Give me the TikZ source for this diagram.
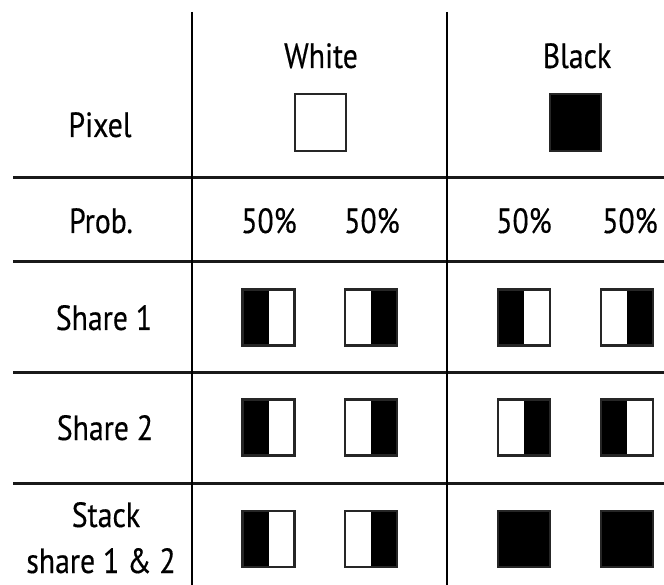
\documentclass[tikz,border=0pt]{standalone}
\usepackage{fontspec}
\setmainfont{PT Sans}[FakeStretch=0.85,FakeBold=0.4]
\begin{document}
\begin{tikzpicture}[x=1pt,y=-1pt,
  lbl/.style={anchor=base,inner sep=0pt,font=\fontsize{35}{42}\selectfont},
  cell/.style={draw=black!85,line width=2.5pt,minimum width=52pt,minimum height=56pt,inner sep=0pt},
  halfL/.style={cell,path picture={\fill[black] (path picture bounding box.south west) rectangle (path picture bounding box.north);}},
  halfR/.style={cell,path picture={\fill[black] (path picture bounding box.south) rectangle (path picture bounding box.north east);}},
  full/.style={cell,fill=black},
  grid/.style={line width=3pt,black!90}]
\useasboundingbox (0,0) rectangle (664,585);
% grid
\coordinate (v1t) at (192,12); \coordinate (v1b) at (192,585);
\coordinate (v2t) at (447,12); \coordinate (v2b) at (447,585);
\foreach \y/\n in {178/a,262/b,372/c,483/d}{
  \coordinate (h\n l) at (13,\y); \coordinate (h\n r) at (664,\y);
  \draw[grid] (h\n l) -- (h\n r);}
\draw[line width=2.5pt] (v1t) -- (v1b);
\draw[line width=2pt] (v2t) -- (v2b);
% header
\node[lbl] (white) at (321,68) {White};
\node[lbl] (black) at (577,68) {Black};
\node[lbl] (pixel) at (100,137) {Pixel};
\node[cell,minimum width=51pt,minimum height=57pt] (pw) at (320.5,122.5) {};
\node[full,minimum width=51pt,minimum height=57pt] (pb) at (575.5,122.5) {};
% prob
\node[lbl] (prob) at (101,233) {Prob.};
\node[lbl] (p1) at (269,233) {50\%};
\node[lbl] (p2) at (372,233) {50\%};
\node[lbl] (p3) at (524,233) {50\%};
\node[lbl] (p4) at (630,233) {50\%};
% share 1
\node[lbl] (s1) at (104,330) {Share 1};
\node[halfL] (s1a) at (268.5,317.5) {};
\node[halfR] (s1b) at (371,317.5) {};
\node[halfL] (s1c) at (524,317.5) {};
\node[halfR] (s1d) at (627,317.5) {};
% share 2
\node[lbl] (s2) at (105,440) {Share 2};
\node[halfL] (s2a) at (268.5,427.5) {};
\node[halfR] (s2b) at (371,427.5) {};
\node[halfR] (s2c) at (524,427.5) {};
\node[halfL] (s2d) at (627,427.5) {};
% stack
\node[lbl] (st1) at (106,527) {Stack};
\node[lbl] (st2) at (101,573) {share 1 \& 2};
\node[halfL] (s3a) at (268.5,539) {};
\node[halfR] (s3b) at (371,539) {};
\node[full] (s3c) at (524,539) {};
\node[full] (s3d) at (627,539) {};
\end{tikzpicture}
\end{document}
